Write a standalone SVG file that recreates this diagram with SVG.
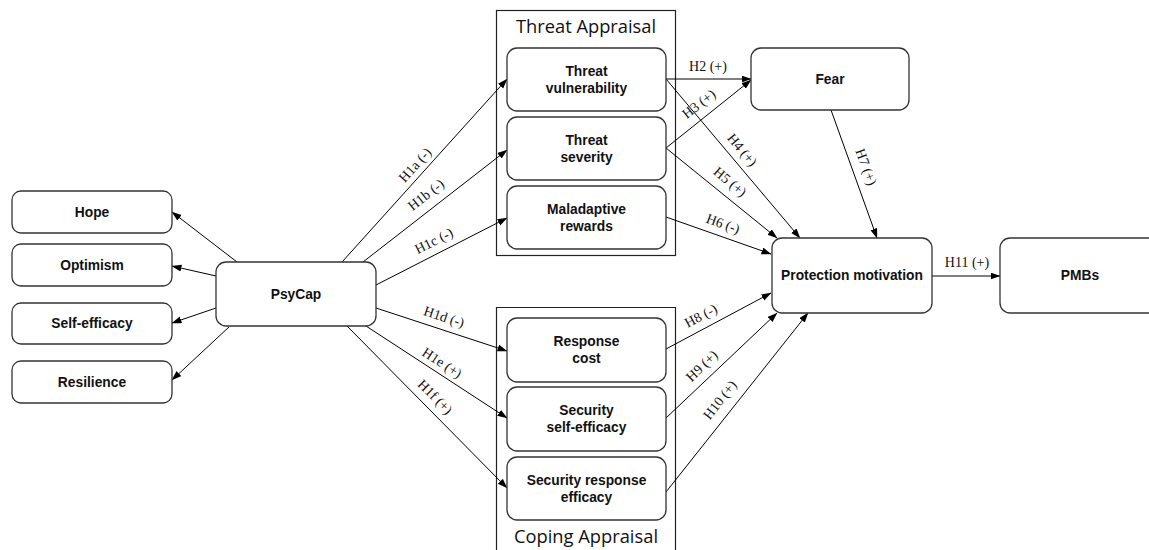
<svg xmlns="http://www.w3.org/2000/svg" width="1149" height="550" viewBox="0 0 1149 550">
  <style>
    .box { fill: #ffffff; stroke: #333333; stroke-width: 1.3; }
    .group { fill: none; stroke: #222222; stroke-width: 1.2; }
    .node { font-family: "Liberation Sans", Arial, sans-serif; font-weight: bold; font-size: 13.8px; fill: #111111; text-anchor: middle; dominant-baseline: central; }
    .gtitle { font-family: "Open Sans", "Noto Sans", sans-serif; font-size: 19px; fill: #111111; text-anchor: middle; }
    .edge { stroke: #000000; stroke-width: 1; fill: none; marker-end: url(#arrow); }
    .lbl { font-family: "Liberation Serif", "Times New Roman", serif; font-size: 14px; fill: #111111; text-anchor: middle; dominant-baseline: central; }
  </style>
  <defs>
    <marker id="arrow" markerUnits="userSpaceOnUse" markerWidth="10" markerHeight="8" refX="9.5" refY="3.5" orient="auto">
      <path d="M0,0 L10,3.5 L0,7 z" fill="#000000"/>
    </marker>
  </defs>
  <rect width="1149" height="550" fill="#ffffff"/>

  <!-- appraisal group frames -->
  <g id="threat-appraisal">
    <rect class="group" x="496.5" y="10.5" width="179" height="245"/>
    <text class="gtitle" x="586" y="33" textLength="140" lengthAdjust="spacingAndGlyphs">Threat Appraisal</text>
  </g>
  <g id="coping-appraisal">
    <path class="group" d="M496.5,560 L496.5,307.5 L675.5,307.5 L675.5,560"/>
    <text class="gtitle" x="586" y="543" textLength="144" lengthAdjust="spacingAndGlyphs">Coping Appraisal</text>
  </g>

  <!-- connectors -->
  <g id="connectors">
    <line class="edge" x1="237" y1="262" x2="172" y2="212"/>
    <line class="edge" x1="216" y1="276" x2="172" y2="266"/>
    <line class="edge" x1="216" y1="308" x2="172" y2="323"/>
    <line class="edge" x1="229" y1="327" x2="172" y2="380"/>

    <line class="edge" x1="342" y1="262" x2="507" y2="79"/>
    <line class="edge" x1="363" y1="262" x2="507" y2="150"/>
    <line class="edge" x1="376" y1="285" x2="507" y2="218"/>
    <line class="edge" x1="376" y1="308" x2="507" y2="351"/>
    <line class="edge" x1="366" y1="326" x2="507" y2="418"/>
    <line class="edge" x1="347" y1="326" x2="507" y2="488"/>

    <line class="edge" x1="666" y1="79" x2="751" y2="79"/>
    <line class="edge" x1="666" y1="148" x2="751" y2="80"/>
    <line class="edge" x1="666" y1="79" x2="800" y2="238"/>
    <line class="edge" x1="666" y1="148" x2="777" y2="238"/>
    <line class="edge" x1="666" y1="217" x2="771" y2="254"/>
    <line class="edge" x1="831" y1="110" x2="877" y2="238"/>
    <line class="edge" x1="666" y1="349" x2="771" y2="293"/>
    <line class="edge" x1="666" y1="418" x2="777" y2="313"/>
    <line class="edge" x1="666" y1="492" x2="808" y2="313"/>
    <line class="edge" x1="932" y1="276" x2="1000" y2="276"/>

    <text class="lbl" transform="translate(415,165) rotate(-48)">H1a (-)</text>
    <text class="lbl" transform="translate(426,195) rotate(-38)">H1b (-)</text>
    <text class="lbl" transform="translate(434,241) rotate(-27)">H1c (-)</text>
    <text class="lbl" transform="translate(444,317) rotate(18)">H1d (-)</text>
    <text class="lbl" transform="translate(442,363) rotate(33)">H1e (+)</text>
    <text class="lbl" transform="translate(435,397) rotate(45)">H1f (+)</text>
    <text class="lbl" x="708" y="66">H2 (+)</text>
    <text class="lbl" transform="translate(699,104) rotate(-38)">H3 (+)</text>
    <text class="lbl" transform="translate(742,150) rotate(50)">H4 (+)</text>
    <text class="lbl" transform="translate(730,182) rotate(40)">H5 (+)</text>
    <text class="lbl" transform="translate(723,224) rotate(20)">H6 (-)</text>
    <text class="lbl" transform="translate(866,167) rotate(70)">H7 (+)</text>
    <text class="lbl" transform="translate(701,316) rotate(-28)">H8 (-)</text>
    <text class="lbl" transform="translate(702,366) rotate(-44)">H9 (+)</text>
    <text class="lbl" transform="translate(720,400) rotate(-52)">H10 (+)</text>
    <text class="lbl" x="967" y="262">H11 (+)</text>
  </g>

  <!-- PsyCap dimensions -->
  <g id="hope">
    <rect class="box" x="12" y="191" width="160" height="42" rx="9"/>
    <text class="node" x="92" y="212">Hope</text>
  </g>
  <g id="optimism">
    <rect class="box" x="12" y="244" width="160" height="42" rx="9"/>
    <text class="node" x="92" y="265">Optimism</text>
  </g>
  <g id="self-efficacy">
    <rect class="box" x="12" y="303" width="160" height="41" rx="9"/>
    <text class="node" x="92" y="323.5">Self-efficacy</text>
  </g>
  <g id="resilience">
    <rect class="box" x="12" y="361" width="160" height="42" rx="9"/>
    <text class="node" x="92" y="382">Resilience</text>
  </g>

  <g id="psycap">
    <rect class="box" x="216" y="262" width="160" height="64" rx="10"/>
    <text class="node" x="296" y="294">PsyCap</text>
  </g>

  <!-- threat appraisal constructs -->
  <g id="threat-vulnerability">
    <rect class="box" x="507" y="48" width="159" height="63" rx="10"/>
    <text class="node" x="586.5" y="71">Threat</text>
    <text class="node" x="586.5" y="88">vulnerability</text>
  </g>
  <g id="threat-severity">
    <rect class="box" x="507" y="117" width="159" height="63" rx="10"/>
    <text class="node" x="586.5" y="140">Threat</text>
    <text class="node" x="586.5" y="157">severity</text>
  </g>
  <g id="maladaptive-rewards">
    <rect class="box" x="507" y="186" width="159" height="63" rx="10"/>
    <text class="node" x="586.5" y="209">Maladaptive</text>
    <text class="node" x="586.5" y="226">rewards</text>
  </g>

  <!-- coping appraisal constructs -->
  <g id="response-cost">
    <rect class="box" x="507" y="318" width="159" height="64" rx="10"/>
    <text class="node" x="586.5" y="341">Response</text>
    <text class="node" x="586.5" y="358">cost</text>
  </g>
  <g id="security-self-efficacy">
    <rect class="box" x="507" y="387" width="159" height="64" rx="10"/>
    <text class="node" x="586.5" y="410">Security</text>
    <text class="node" x="586.5" y="427">self-efficacy</text>
  </g>
  <g id="security-response-efficacy">
    <rect class="box" x="507" y="457" width="159" height="63" rx="10"/>
    <text class="node" x="586.5" y="480">Security response</text>
    <text class="node" x="586.5" y="497">efficacy</text>
  </g>

  <!-- outcomes -->
  <g id="fear">
    <rect class="box" x="751" y="48" width="158" height="62" rx="10"/>
    <text class="node" x="830" y="79">Fear</text>
  </g>
  <g id="protection-motivation">
    <rect class="box" x="772" y="238" width="160" height="75" rx="10"/>
    <text class="node" x="852" y="275.5">Protection motivation</text>
  </g>
  <g id="pmbs">
    <rect class="box" x="1000" y="238" width="164" height="75" rx="10"/>
    <text class="node" x="1080" y="275.5">PMBs</text>
  </g>
</svg>
